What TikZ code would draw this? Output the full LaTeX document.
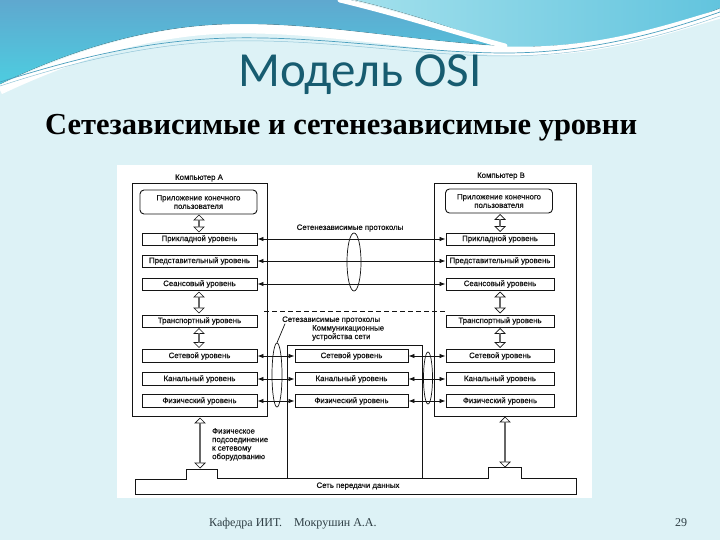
\documentclass[tikz,border=0pt]{standalone}
\usepackage{fontspec}
\setmainfont{Liberation Sans}
\newfontfamily\titlefont{Carlito}
\newfontfamily\subfont{Liberation Serif}
\newfontfamily\diagfam{Liberation Sans}[FakeBold=0.6]
\usetikzlibrary{arrows.meta,shapes.arrows,shapes.geometric}
\definecolor{bgc}{HTML}{DDF2F6}
\definecolor{blueTop}{HTML}{5FA8CF}
\definecolor{blueBot}{HTML}{4DCDE0}
\definecolor{cyanL}{HTML}{A2E0EC}
\definecolor{cyanR}{HTML}{62C4DE}
\definecolor{linec}{HTML}{4A9FBE}
\definecolor{titlec}{HTML}{175C70}
\definecolor{footc}{HTML}{2F3F45}
\definecolor{ink}{HTML}{141414}
\newcommand{\diagfont}{\diagfam\fontsize{7.8}{8.5}\selectfont}
\tikzset{
  lvl/.style={draw=ink, line width=0.9pt, minimum height=12pt, inner sep=0pt, font=\diagfont, fill=white, text=ink},
  outerbox/.style={draw=ink, line width=0.9pt, inner sep=0pt},
  harr/.style={{Latex[length=6pt,width=4.5pt]}-{Latex[length=6pt,width=4.5pt]}, draw=ink, line width=0.8pt},
  varr/.style={double arrow, draw=ink, fill=white, rotate=90, line width=0.7pt, inner sep=0pt, minimum width=10pt, double arrow head extend=2.5pt},
  lbl/.style={font=\diagfont, inner sep=0pt, text=ink},
  ell/.style={draw=ink, ellipse, line width=0.7pt, inner sep=0pt}
}
\begin{document}
\begin{tikzpicture}[x=1pt,y=-1pt]
\useasboundingbox (0,0) rectangle (720,540);
\fill[bgc] (0,0) rectangle (720,540);
% decoration
\fill[top color=blueTop, bottom color=blueBot] (0,0) -- (350,0) .. controls (420,20) and (470,38) .. (505,46)
  .. controls (400,40) and (320,22) .. (230,24) .. controls (140,26) and (60,55) .. (0,84) -- cycle;
\fill[left color=cyanL, right color=cyanR] (355,0) -- (720,0) -- (720,8) .. controls (660,34) and (580,48) .. (508,47)
  .. controls (465,33) and (415,14) .. (355,0) -- cycle;
\draw[white, line width=5pt, line cap=round] (340,0) .. controls (410,17) and (460,34) .. (505,46);
\draw[white, line width=9pt] (0,90) .. controls (60,62) and (140,31) .. (230,29) .. controls (320,27) and (420,47) .. (505,51)
  .. controls (600,54) and (670,28) .. (720,14);
\draw[linec, line width=0.7pt] (0,82) .. controls (80,57) and (150,40) .. (230,38) .. controls (330,36) and (420,53) .. (505,53)
  .. controls (600,53) and (680,26) .. (720,12);
\draw[linec!60, line width=0.5pt] (0,86) .. controls (80,60) and (150,44) .. (230,41) .. controls (330,39) and (420,56) .. (505,56)
  .. controls (600,56) and (680,30) .. (720,16);
% titles
\node[font=\titlefont\fontsize{49}{52}\selectfont, text=titlec, anchor=base, inner sep=0pt] (title) at (360,87) {Модель OSI};
\node[font=\subfont\bfseries\fontsize{30.5}{33}\selectfont, anchor=base west, inner sep=0pt] (sub) at (45,135) {Сетезависимые и сетенезависимые уровни};
\node[font=\subfont\fontsize{12}{13}\selectfont, text=footc, anchor=base west, inner sep=0pt] (foot) at (209,526) {Кафедра ИИТ.\quad Мокрушин А.А.};
\node[font=\subfont\fontsize{12}{13}\selectfont, text=footc, anchor=base, inner sep=0pt] (page) at (681,526) {29};
% diagram area
\fill[white] (117,165) rectangle (592,498);
% outer computer boxes
\node[outerbox, minimum width=135pt, minimum height=233pt] (compA) at (199.5,299.5) {};
\node[outerbox, minimum width=142pt, minimum height=233pt] (compB) at (505,299.5) {};
\node[lbl] (labA) at (199,178) {Компьютер А};
\node[lbl] (labB) at (501,176) {Компьютер В};
% computer A
\node[lvl, rounded corners=4pt, minimum width=117pt, minimum height=24pt, align=center] (appA) at (198.5,202) {Приложение конечного\\пользователя};
\node[lvl, minimum width=115pt] (A1) at (199.5,239) {Прикладной уровень};
\node[lvl, minimum width=115pt] (A2) at (199.5,261) {Представительный уровень};
\node[lvl, minimum width=115pt] (A3) at (199.5,284) {Сеансовый уровень};
\node[lvl, minimum width=115pt] (A4) at (199.5,321) {Транспортный уровень};
\node[lvl, minimum width=115pt, minimum height=13pt] (A5) at (199.5,356) {Сетевой уровень};
\node[lvl, minimum width=115pt, minimum height=13pt] (A6) at (199.5,379) {Канальный уровень};
\node[lvl, minimum width=115pt, minimum height=13pt] (A7) at (199.5,401) {Физический уровень};
% computer B
\node[lvl, rounded corners=4pt, minimum width=107pt, minimum height=24pt, align=center] (appB) at (499,201) {Приложение конечного\\пользователя};
\node[lvl, minimum width=108pt] (B1) at (500,239) {Прикладной уровень};
\node[lvl, minimum width=108pt] (B2) at (500,261) {Представительный уровень};
\node[lvl, minimum width=108pt] (B3) at (500,284) {Сеансовый уровень};
\node[lvl, minimum width=108pt] (B4) at (500,321) {Транспортный уровень};
\node[lvl, minimum width=108pt, minimum height=13pt] (B5) at (500,356) {Сетевой уровень};
\node[lvl, minimum width=108pt, minimum height=13pt] (B6) at (500,379) {Канальный уровень};
\node[lvl, minimum width=108pt, minimum height=13pt] (B7) at (500,401) {Физический уровень};
% communication devices
\node[outerbox, minimum width=135pt, minimum height=133pt] (comm) at (354.5,411.5) {};
\node[lvl, minimum width=113pt, minimum height=13pt] (C5) at (351.5,356) {Сетевой уровень};
\node[lvl, minimum width=113pt, minimum height=13pt] (C6) at (351.5,379) {Канальный уровень};
\node[lvl, minimum width=113pt, minimum height=13pt] (C7) at (351.5,401) {Физический уровень};
\node[lbl, anchor=north west, align=left] (commlab) at (312,325) {Коммуникационные\\устройства сети};
% network
\draw[draw=ink, line width=0.9pt] (135,479) -- (186,479) -- (186,469) -- (217,469) -- (217,478) -- (488,478) -- (488,467)
  -- (521,467) -- (521,478) -- (576,478) -- (576,494) -- (135,494) -- cycle;
\node[lbl] (net) at (358,486) {Сеть передачи данных};
\node[lbl, anchor=north west, align=left] (phys) at (212,428) {Физическое\\подсоединение\\к сетевому\\оборудованию};
% vertical hollow arrows
\node[varr, minimum height=17pt] (va1) at (199,223.5) {};
\node[varr, minimum height=21pt] (va2) at (199,302.5) {};
\node[varr, minimum height=19pt] (va3) at (199,338) {};
\node[varr, minimum height=50pt] (va4) at (200,443) {};
\node[varr, minimum height=17pt] (vb1) at (500,223) {};
\node[varr, minimum height=21pt] (vb2) at (500,302.5) {};
\node[varr, minimum height=19pt] (vb3) at (500,338) {};
\node[varr, minimum height=50pt] (vb4) at (505,442) {};
% protocol labels
\node[lbl] (indep) at (350,228) {Сетенезависимые протоколы};
\node[lbl, anchor=west] (dep) at (282,320) {Сетезависимые протоколы};
\draw[draw=ink, line width=0.8pt, dash pattern=on 5pt off 3pt] (264,311) -- (445,311);
% horizontal arrows
\draw[harr] (A1.east) -- (B1.west);
\draw[harr] (A2.east) -- (B2.west);
\draw[harr] (A3.east) -- (B3.west);
\draw[harr] (A5.east) -- (C5.west);
\draw[harr] (A6.east) -- (C6.west);
\draw[harr] (A7.east) -- (C7.west);
\draw[harr] (C5.east) -- (B5.west);
\draw[harr] (C6.east) -- (B6.west);
\draw[harr] (C7.east) -- (B7.west);
% ellipses
\node[ell, minimum width=14pt, minimum height=58pt] (elT) at (354,262) {};
\node[ell, minimum width=10pt, minimum height=64pt] (elL) at (277,375) {};
\node[ell, minimum width=9pt, minimum height=52pt] (elR) at (428,378) {};
\draw[draw=ink, line width=0.7pt] (dep.south west) ++(3,0) -- (elL.north);
\end{tikzpicture}
\end{document}
